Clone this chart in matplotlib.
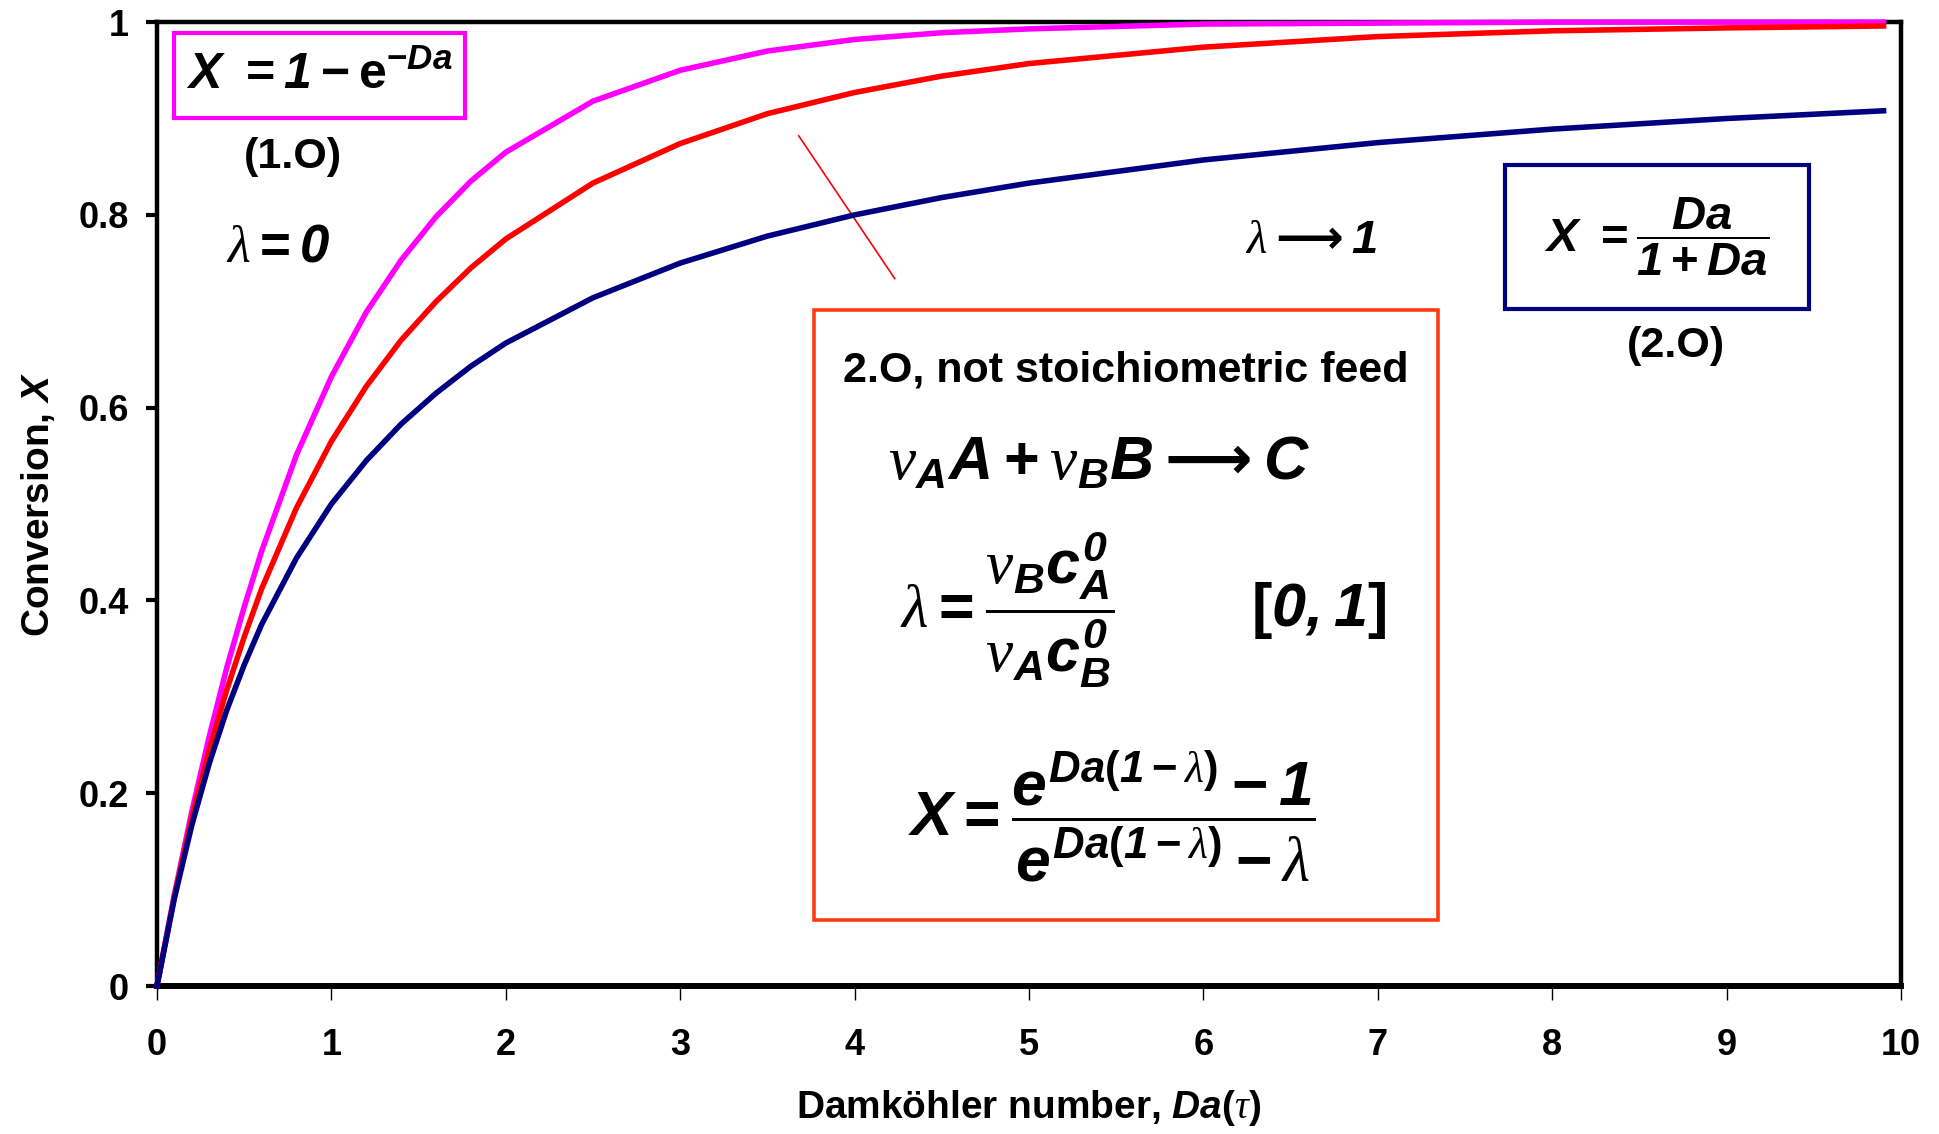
import numpy as np
import matplotlib.pyplot as plt
from matplotlib.patches import Rectangle

plt.rcParams['font.family'] = ['Liberation Sans', 'DejaVu Sans']
plt.rcParams['font.weight'] = 'bold'
plt.rcParams['mathtext.fontset'] = 'custom'
plt.rcParams['mathtext.rm'] = 'Liberation Sans:weight=bold'
plt.rcParams['mathtext.it'] = 'Liberation Sans:style=italic:weight=bold'
plt.rcParams['mathtext.bf'] = 'Liberation Sans:weight=bold'
# serif italic for the greek letters, bold italic for digits, dejavu for arrows
plt.rcParams['mathtext.cal'] = 'Liberation Serif:style=italic:weight=normal'
plt.rcParams['mathtext.sf'] = 'Liberation Sans:style=italic:weight=bold'
plt.rcParams['mathtext.tt'] = 'DejaVu Sans:weight=bold'

# values
da = [0, 0.1, 0.2, 0.3, 0.4, 0.5, 0.6, 0.8, 1.0, 1.2, 1.4, 1.6, 1.8, 2.0,
      2.5, 3.0, 3.5, 4.0, 4.5, 5.0, 6.0, 7.0, 8.0, 9.0, 9.9]
x_first = [0, 0.095, 0.181, 0.259, 0.330, 0.393, 0.451, 0.551, 0.632, 0.699,
           0.753, 0.798, 0.835, 0.865, 0.918, 0.950, 0.970, 0.982, 0.989,
           0.993, 0.998, 0.999, 1.0, 1.0, 1.0]
x_mixed = [0, 0.093, 0.174, 0.245, 0.307, 0.362, 0.412, 0.496, 0.565, 0.622,
           0.670, 0.710, 0.745, 0.775, 0.833, 0.874, 0.905, 0.927, 0.944,
           0.957, 0.974, 0.985, 0.991, 0.994, 0.996]
x_second = [0, 0.091, 0.167, 0.231, 0.286, 0.333, 0.375, 0.444, 0.500, 0.545,
            0.583, 0.615, 0.643, 0.667, 0.714, 0.750, 0.778, 0.800, 0.818,
            0.833, 0.857, 0.875, 0.889, 0.900, 0.908]

xticks = list(range(11))
yticks = [0, 0.2, 0.4, 0.6, 0.8, 1.0]
ytick_labels = ['0', '0.2', '0.4', '0.6', '0.8', '1']

fig = plt.figure(figsize=(19.4, 11.34), dpi=100)
ax = fig.add_axes([0.0809, 0.1305, 0.899, 0.850])

ax.plot(da, x_first, color='#FF00FF', lw=4, clip_on=False, zorder=3)
ax.plot(da, x_mixed, color='#FF0000', lw=4, clip_on=False, zorder=3)
ax.plot(da, x_second, color='#000080', lw=4, clip_on=False, zorder=3)

ax.set_xlim(0, 10)
ax.set_ylim(0, 1)
ax.set_xticks(xticks)
ax.set_xticklabels([str(t) for t in xticks], fontsize=26, fontweight='bold')
ax.set_yticks(yticks)
ax.set_yticklabels(ytick_labels, fontsize=26, fontweight='bold')
ax.tick_params(axis='x', direction='out', length=10, width=1, pad=20)
ax.tick_params(axis='y', direction='out', length=8, width=3, pad=12)
for s in ['top', 'left', 'right']:
    ax.spines[s].set_linewidth(3.2)
ax.spines['bottom'].set_linewidth(4.3)

ax.set_xlabel(r'Damköhler number, $Da(\mathcal{\tau})$', fontsize=28,
              fontweight='bold', labelpad=18)
ax.set_ylabel(r'Conversion, $X$', fontsize=28, fontweight='bold', labelpad=16)

# pointer line
ax.plot([3.68, 4.23], [0.882, 0.734], color='#FF0000', lw=1.2)

# first order box
ax.add_patch(Rectangle((0.10, 0.901), 1.667, 0.0873, fill=False,
                       edgecolor='#FF00FF', lw=3, zorder=4))
ax.text(0.933, 0.945, r'$X\ =\mathsf{1}-\mathrm{e}^{-Da}$', fontsize=36,
        ha='center', va='center')
ax.text(0.78, 0.86, '(1.O)', fontsize=31, ha='center', va='center')
ax.text(0.695, 0.766, r'$\mathcal{\lambda}=\mathsf{0}$', fontsize=38,
        ha='center', va='center')
ax.text(6.617, 0.773, r'$\mathcal{\lambda}\mathtt{\longrightarrow}\mathsf{1}$',
        fontsize=34, ha='center', va='center')

# second order box
ax.add_patch(Rectangle((7.73, 0.702), 1.745, 0.150, fill=False,
                       edgecolor='#000080', lw=3, zorder=4))
ax.text(8.60, 0.777, r'$X\ =\dfrac{Da}{\mathsf{1}+Da}$', fontsize=34,
        ha='center', va='center')
ax.text(8.71, 0.664, '(2.O)', fontsize=31, ha='center', va='center')

# non-stoichiometric box
ax.add_patch(Rectangle((3.766, 0.069), 3.582, 0.632, fill=False,
                       edgecolor='#FF3A10', lw=2.6, zorder=4))
ax.text(5.553, 0.639, '2.O, not stoichiometric feed', fontsize=31,
        ha='center', va='center')
ax.text(5.404, 0.542,
        r'$\mathcal{\nu}_{A}A+\mathcal{\nu}_{B}B\mathtt{\longrightarrow}C$',
        fontsize=44, ha='center', va='center')
ax.text(4.26, 0.390,
        r'$\mathcal{\lambda}=\dfrac{\mathcal{\nu}_{B}c_{A}^{\mathsf{0}}}{\mathcal{\nu}_{A}c_{B}^{\mathsf{0}}}$',
        fontsize=44, ha='left', va='center')
ax.text(6.66, 0.390, r'$[\mathsf{0,1}]$', fontsize=44, ha='center',
        va='center')
ax.text(5.475, 0.176,
        r'$X=\dfrac{e^{Da(\mathsf{1}-\mathcal{\lambda})}-\mathsf{1}}{e^{Da(\mathsf{1}-\mathcal{\lambda})}-\mathcal{\lambda}}$',
        fontsize=45, ha='center', va='center')

fig.savefig('out.png', dpi=100)
